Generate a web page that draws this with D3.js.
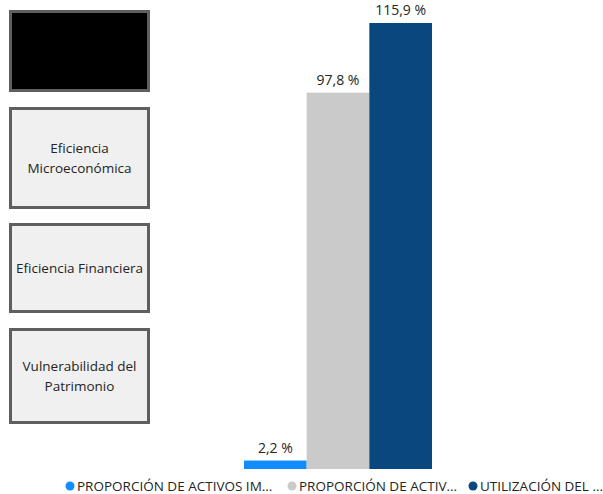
<!DOCTYPE html>
<html>
<head>
<meta charset="utf-8">
<script src="https://cdn.jsdelivr.net/npm/d3@7"></script>
<style>
  body { margin: 0; background: #fff; }
  svg { font-family: "Open Sans", "Noto Sans", sans-serif; }
</style>
</head>
<body>
<div class="chart"></div>
<script>
var series = ["PROPORCIÓN DE ACTIVOS IM...", "PROPORCIÓN DE ACTIV...", "UTILIZACIÓN DEL ..."];
var values = [2.2, 97.8, 115.9];
var colors = ["#118DFF", "#CACACA", "#0B477F"];
var boxes = [[""], ["Eficiencia", "Microeconómica"], ["Eficiencia Financiera"], ["Vulnerabilidad del", "Patrimonio"]];

var width = 603, height = 494;

var svg = d3.select(".chart").append("svg")
    .attr("width", width)
    .attr("height", height);

// left navigation boxes
var boxY = [10, 107, 223, 328],
    boxH = [82, 102, 90, 96];

var box = svg.selectAll(".box")
    .data(boxes)
    .enter()
    .append("g")
    .attr("class", "box")
    .attr("transform", function(d, i) { return "translate(9," + boxY[i] + ")"; });

box.append("rect")
    .attr("x", 1.5).attr("y", 1.5)
    .attr("width", 138)
    .attr("height", function(d, i) { return boxH[i] - 3; })
    .attr("fill", function(d, i) { return i == 0 ? "#000" : "#F0F0F0"; })
    .attr("stroke", "#5F5F5F")
    .attr("stroke-width", 3);

box.each(function(d, i) {
    var g = d3.select(this);
    var mid = boxH[i] / 2;
    d.forEach(function(line, j) {
        g.append("text")
            .attr("x", 70.5)
            .attr("y", mid + (j - (d.length - 1) / 2) * 20 + 5)
            .attr("text-anchor", "middle")
            .attr("font-size", 13.5)
            .attr("fill", "#252423")
            .text(line);
    });
});

// bars
var x = d3.scaleBand()
    .domain(series)
    .range([244, 432])
    .padding(0);

var y = d3.scaleLinear()
    .domain([0, 115.9])
    .range([469, 23]);

svg.selectAll(".bar")
    .data(values)
    .enter()
    .append("rect")
    .attr("class", "bar")
    .attr("x", function(d, i) { return x(series[i]); })
    .attr("y", function(d) { return y(d); })
    .attr("width", x.bandwidth())
    .attr("height", function(d) { return y(0) - y(d); })
    .attr("fill", function(d, i) { return colors[i]; });

svg.selectAll(".label")
    .data(values)
    .enter()
    .append("text")
    .attr("class", "label")
    .attr("x", function(d, i) { return x(series[i]) + x.bandwidth() / 2; })
    .attr("y", function(d) { return y(d) - 8; })
    .attr("text-anchor", "middle")
    .attr("font-size", 14)
    .attr("fill", "#252423")
    .text(function(d) { return d3.format(".1f")(d).replace(".", ",") + " %"; });

// legend
var legendX = [70, 292, 473];

var legend = svg.selectAll(".legend")
    .data(series)
    .enter()
    .append("g")
    .attr("class", "legend")
    .attr("transform", function(d, i) { return "translate(" + legendX[i] + ",486)"; });

legend.append("circle")
    .attr("r", 4.5)
    .attr("fill", function(d, i) { return colors[i]; });

legend.append("text")
    .attr("x", 7)
    .attr("y", 5)
    .attr("font-size", 13.5)
    .attr("fill", "#252423")
    .text(function(d) { return d; });
</script>
</body>
</html>
